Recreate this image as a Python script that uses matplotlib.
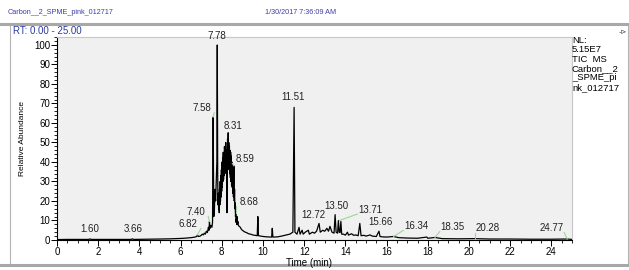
import matplotlib
matplotlib.use("Agg")
import matplotlib.pyplot as plt
from matplotlib.ticker import MultipleLocator
from matplotlib.patches import Rectangle
from matplotlib.lines import Line2D

plt.rcParams['font.family'] = ['Liberation Sans', 'DejaVu Sans']

# chromatogram trace: (time in min, relative abundance %)
trace = [
    (0.0, 0.2), (0.5, 0.3), (1.0, 0.3), (1.55, 0.3), (1.60, 0.6), (1.65, 0.3),
    (2.5, 0.3), (3.6, 0.3), (3.66, 0.6), (3.72, 0.3), (4.5, 0.4), (5.0, 0.5),
    (5.5, 0.6), (6.0, 0.8), (6.3, 1.0), (6.5, 1.2), (6.7, 1.5), (6.78, 1.8),
    (6.82, 2.6), (6.86, 1.8), (6.95, 2.0), (7.0, 2.4), (7.05, 3.0), (7.1, 2.6),
    (7.15, 3.5), (7.2, 3.0), (7.25, 4.5), (7.3, 3.8), (7.35, 6.5), (7.38, 5.0),
    (7.40, 9.5), (7.43, 6.0), (7.47, 7.5), (7.52, 6.5), (7.55, 9.0), (7.58, 63),
    (7.61, 12), (7.64, 15), (7.67, 26), (7.70, 20), (7.73, 30), (7.76, 40),
    (7.78, 100), (7.80, 35), (7.815, 18), (7.83, 24), (7.845, 16), (7.86, 22),
    (7.875, 14), (7.89, 26), (7.905, 18), (7.92, 30), (7.935, 20), (7.95, 33),
    (7.965, 22), (7.98, 36), (7.995, 25), (8.01, 40), (8.025, 27), (8.04, 42),
    (8.055, 30), (8.07, 45), (8.085, 31), (8.10, 44), (8.115, 33), (8.13, 48),
    (8.145, 34), (8.16, 47), (8.175, 36), (8.19, 50), (8.205, 35), (8.22, 46),
    (8.235, 30), (8.25, 14), (8.265, 38), (8.28, 52), (8.295, 40), (8.31, 55),
    (8.325, 38), (8.34, 50), (8.355, 36), (8.37, 48), (8.385, 34), (8.40, 46),
    (8.415, 32), (8.43, 45), (8.445, 30), (8.46, 43), (8.475, 28), (8.49, 40),
    (8.505, 27), (8.52, 36), (8.535, 24), (8.55, 37), (8.565, 22), (8.58, 35),
    (8.59, 38), (8.605, 20), (8.62, 26), (8.635, 16), (8.65, 19), (8.665, 12),
    (8.68, 14), (8.695, 9), (8.71, 11), (8.725, 8), (8.74, 12), (8.76, 8),
    (8.78, 9.5), (8.80, 7.5), (8.85, 7.0), (8.90, 6.5), (8.95, 5.5), (9.0, 5.0),
    (9.1, 4.2), (9.2, 3.8), (9.3, 3.2), (9.4, 3.0), (9.5, 2.6), (9.6, 2.4),
    (9.72, 2.2), (9.75, 12), (9.78, 2.2), (9.9, 2.0), (10.0, 1.8), (10.2, 1.6),
    (10.42, 1.5), (10.45, 6.0), (10.48, 1.5), (10.7, 1.6), (10.9, 2.0),
    (11.1, 2.5), (11.3, 3.0), (11.45, 4.0), (11.51, 68), (11.55, 4.0),
    (11.65, 3.0), (11.75, 6.5), (11.8, 3.0), (11.9, 5.0), (11.95, 3.0),
    (12.05, 4.0), (12.2, 5.0), (12.25, 3.0), (12.4, 4.0), (12.5, 3.5),
    (12.6, 4.5), (12.72, 8.5), (12.78, 4.0), (12.9, 5.0), (13.0, 4.5),
    (13.1, 6.0), (13.18, 4.5), (13.25, 7.0), (13.35, 4.0), (13.45, 3.5),
    (13.50, 13), (13.55, 4.0), (13.62, 3.5), (13.66, 10), (13.70, 4.0),
    (13.74, 3.8), (13.78, 9.5), (13.82, 3.0), (13.9, 3.0), (14.0, 2.5),
    (14.1, 4.0), (14.15, 2.5), (14.3, 3.2), (14.4, 2.4), (14.5, 2.6),
    (14.62, 2.2), (14.70, 8.5), (14.76, 2.2), (14.9, 2.4), (15.0, 2.0),
    (15.2, 2.6), (15.3, 2.0), (15.5, 1.8), (15.63, 4.5), (15.68, 1.8),
    (15.8, 1.6), (16.0, 1.5), (16.34, 1.8), (16.6, 1.2), (17.0, 1.0),
    (17.5, 0.9), (17.95, 1.5), (18.0, 0.9), (18.35, 1.3), (18.7, 0.7),
    (19.5, 0.6), (20.28, 0.7), (21.0, 0.5), (22.0, 0.5), (23.0, 0.4),
    (24.0, 0.4), (24.77, 0.5), (25.0, 0.3),
]
rt = [p[0] for p in trace]
abundance = [p[1] for p in trace]

# labelled peaks
peak_labels = ['1.60', '3.66', '6.82', '7.40', '7.58', '7.78', '8.31', '8.59',
               '8.68', '11.51', '12.72', '13.50', '13.71', '15.66', '16.34',
               '18.35', '20.28', '24.77']
peak_heights = [0.6, 0.6, 2.6, 9.5, 63, 100, 55, 38, 14, 68, 8.5, 13, 10, 4.5,
                1.8, 1.3, 0.7, 0.5]
# where each label text sits (center x in min, baseline y in %)
label_pos = [(1.60, 3.0), (3.69, 3.0), (6.36, 5.6), (6.72, 11.8), (7.01, 65),
             (7.78, 102), (8.55, 56), (9.13, 39), (9.30, 17), (11.47, 71),
             (12.43, 10), (13.54, 15), (15.20, 13), (15.68, 6.7), (17.43, 4.6),
             (19.20, 4.0), (20.90, 3.5), (24.00, 3.5)]

fig = plt.figure(figsize=(6.29, 2.70), dpi=100)

# outer panel frame
fig.patches.append(Rectangle((10/629, 5/270), 618/629, 241/270, transform=fig.transFigure,
                             facecolor='white', edgecolor='#b4b4b4', lw=0.8, zorder=-5))
fig.lines.append(Line2D([0, 1], [246/270, 246/270], transform=fig.transFigure,
                        color='#a8a8a8', lw=2.2, zorder=-4))
fig.lines.append(Line2D([0, 1], [5/270, 5/270], transform=fig.transFigure,
                        color='#a8a8a8', lw=2.2, zorder=-4))

fig.text(8/629, 1 - 13/270, 'Carbon__2_SPME_pink_012717', fontsize=5.2,
         color='#3c3ca8', va='center')
fig.text(265/629, 1 - 13/270, '1/30/2017 7:36:09 AM', fontsize=5.2,
         color='#3c3ca8', va='center')
fig.text(13/629, 1 - 31/270, 'RT: 0.00 - 25.00', fontsize=7,
         color='#2a3c9c', va='center')
fig.text(619/629, 1 - 32/270, '-⊳', fontsize=5, color='#444444', va='center',
         family=['DejaVu Sans'])
fig.text(572/629, 1 - 36/270, 'NL:\n5.15E7\nTIC  MS\nCarbon__2\n_SPME_pi\nnk_012717',
         fontsize=6.8, va='top', ha='left', linespacing=1.05)

ax = fig.add_axes([57/629, 30/270, 515/629, 203/270])
ax.set_zorder(2)
ax.set_facecolor('#f0f0f0')
ax.plot(rt, abundance, color='black', lw=0.9)
ax.set_xlim(0, 25)
ax.set_ylim(0, 104.1)

for name, h, (tx, ty) in zip(peak_labels, peak_heights, label_pos):
    t = float(name)
    ax.text(tx, ty, name, fontsize=7, ha='center', va='bottom', color='#222222')
    if abs(tx - t) > 0.3:
        edge = tx - 0.62 if t < tx else tx + 0.62
        ax.plot([edge, t], [ty + 0.3, h], color='#9fd49a', lw=0.8)

ax.xaxis.set_major_locator(MultipleLocator(2))
ax.xaxis.set_minor_locator(MultipleLocator(0.5))
ax.yaxis.set_major_locator(MultipleLocator(10))
ax.yaxis.set_minor_locator(MultipleLocator(2))
ax.tick_params(which='major', length=4, width=0.7, labelsize=7, pad=0.8)
ax.tick_params(which='minor', length=2, width=0.6)
for s in ['top', 'right']:
    ax.spines[s].set_color('#c8c8c8')
    ax.spines[s].set_linewidth(0.8)
for s in ['left', 'bottom']:
    ax.spines[s].set_linewidth(0.8)

ax.set_xlabel('Time (min)', fontsize=7)
ax.xaxis.set_label_coords(0.49, -18/203, transform=ax.transAxes)
ax.set_ylabel('Relative Abundance', fontsize=6)
ax.yaxis.set_label_coords(-31/515, 0.5, transform=ax.transAxes)

fig.savefig('out.png', dpi=100)
